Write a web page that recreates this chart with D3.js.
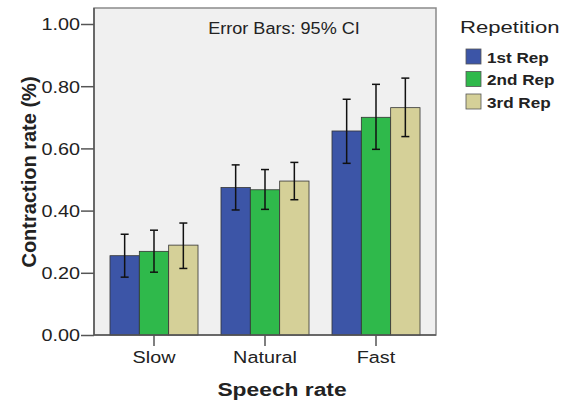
<!DOCTYPE html>
<html>
<head>
<meta charset="utf-8">
<script src="https://cdn.jsdelivr.net/npm/d3@7"></script>
<style>
  body { margin: 0; background: #fff; }
  svg { display: block; font-family: "Liberation Sans", Arial, sans-serif; }
</style>
</head>
<body>
<svg width="571" height="400"></svg>
<script>
// chart data
var categories = ["Slow", "Natural", "Fast"];
var series = ["1st Rep", "2nd Rep", "3rd Rep"];
var colors = ["#3c55a7", "#2fb94b", "#d5d098"];
// mean values, one array per repetition (same order as categories)
var rep1 = [0.255, 0.474, 0.656];
var rep2 = [0.269, 0.467, 0.700];
var rep3 = [0.289, 0.495, 0.731];
// 95% CI low / high
var rep1Low = [0.186, 0.402, 0.552], rep1High = [0.324, 0.547, 0.758];
var rep2Low = [0.202, 0.404, 0.597], rep2High = [0.337, 0.532, 0.806];
var rep3Low = [0.214, 0.435, 0.638], rep3High = [0.360, 0.555, 0.826];
var yTicks = [0, 0.2, 0.4, 0.6, 0.8, 1.0];

var means = [rep1, rep2, rep3],
    lows = [rep1Low, rep2Low, rep3Low],
    highs = [rep1High, rep2High, rep3High];

var data = [];
categories.forEach(function(c, i) {
  series.forEach(function(s, j) {
    data.push({cat: c, rep: s, idx: j, value: means[j][i], lo: lows[j][i], hi: highs[j][i]});
  });
});

var svg = d3.select("svg");
var plot = {left: 94, right: 436, top: 8, bottom: 335};

// the original picture is stretched sideways, so text is widened a bit
function addText(parent, x, y, size, sx, str) {
  return parent.append("text")
    .attr("transform", "translate(" + x + "," + y + ") scale(" + sx + ",1)")
    .attr("font-size", size).attr("fill", "#222")
    .text(str);
}

var x = d3.scaleBand().domain(categories)
  .range([plot.left, plot.right]).paddingInner(0.207).paddingOuter(0.144);
var xs = d3.scaleBand().domain(series).range([0, x.bandwidth()]);
var y = d3.scaleLinear().domain([0, 1]).range([plot.bottom, 24]);

// plot background
svg.append("rect")
  .attr("x", plot.left).attr("y", plot.top)
  .attr("width", plot.right - plot.left).attr("height", plot.bottom - plot.top)
  .attr("fill", "#f0f0f0").attr("stroke", "#8a8a8a").attr("stroke-width", 1.5);

addText(svg, 284, 34, 16, 1.13, "Error Bars: 95% CI").attr("text-anchor", "middle");

// bars
svg.selectAll(".bar")
  .data(data)
  .enter().append("rect")
    .attr("class", "bar")
    .attr("x", function(d) { return x(d.cat) + xs(d.rep); })
    .attr("y", function(d) { return y(d.value); })
    .attr("width", xs.bandwidth())
    .attr("height", function(d) { return y(0) - y(d.value); })
    .attr("fill", function(d) { return colors[d.idx]; })
    .attr("stroke", "#333").attr("stroke-width", 0.8);

// error bars
var eb = svg.selectAll(".err").data(data).enter().append("g")
  .attr("class", "err")
  .attr("transform", function(d) { return "translate(" + (x(d.cat) + xs(d.rep) + xs.bandwidth() / 2) + ",0)"; })
  .attr("stroke", "#111").attr("stroke-width", 1.5);
eb.append("line")
  .attr("y1", function(d) { return y(d.lo); })
  .attr("y2", function(d) { return y(d.hi); });
eb.append("line")
  .attr("x1", -4).attr("x2", 4)
  .attr("y1", function(d) { return y(d.hi); })
  .attr("y2", function(d) { return y(d.hi); });
eb.append("line")
  .attr("x1", -4).attr("x2", 4)
  .attr("y1", function(d) { return y(d.lo); })
  .attr("y2", function(d) { return y(d.lo); });

// axes
var yAxis = svg.append("g")
  .attr("transform", "translate(" + plot.left + ",0)")
  .call(d3.axisLeft(y).tickValues(yTicks).tickFormat(d3.format(".2f")).tickSize(13).tickPadding(1));
var xAxis = svg.append("g")
  .attr("transform", "translate(0," + plot.bottom + ")")
  .call(d3.axisBottom(x).tickSize(11).tickPadding(5));

[yAxis, xAxis].forEach(function(a) {
  a.select(".domain").attr("stroke", "#555").attr("stroke-width", 1.5);
  a.selectAll(".tick line").attr("stroke", "#555").attr("stroke-width", 1.5);
  a.selectAll("text").attr("font-size", 16.5).attr("fill", "#222")
    .attr("font-family", "Liberation Sans, Arial, sans-serif")
    .attr("transform", "scale(1.2,1)");
});
yAxis.selectAll(".tick text").attr("x", -14 / 1.2).attr("dy", "0.36em");
xAxis.select(".domain").attr("d", "M" + plot.left + ",0H" + plot.right);
yAxis.select(".domain").attr("d", "M0," + plot.bottom + "V" + plot.top);

// axis titles
addText(svg, 282, 396, 19, 1.2, "Speech rate")
  .attr("text-anchor", "middle").attr("font-weight", "bold");
svg.append("text")
  .attr("transform", "translate(35.5,172) rotate(-90)")
  .attr("text-anchor", "middle")
  .attr("font-size", 20).attr("font-weight", "bold").attr("fill", "#222")
  .text("Contraction rate (%)");

// legend
var legend = svg.append("g").attr("transform", "translate(460,0)");
addText(legend, 0, 33, 17, 1.3, "Repetition");
var rows = legend.selectAll(".row").data(series).enter().append("g")
  .attr("class", "row")
  .attr("transform", function(d, i) { return "translate(6," + (49 + i * 22.5) + ")"; });
rows.append("rect")
  .attr("width", 15).attr("height", 15)
  .attr("fill", function(d, i) { return colors[i]; })
  .attr("stroke", "#555").attr("stroke-width", 0.8);
rows.each(function(d) {
  addText(d3.select(this), 21, 13.5, 14.5, 1.18, d).attr("font-weight", "bold");
});
</script>
</body>
</html>
